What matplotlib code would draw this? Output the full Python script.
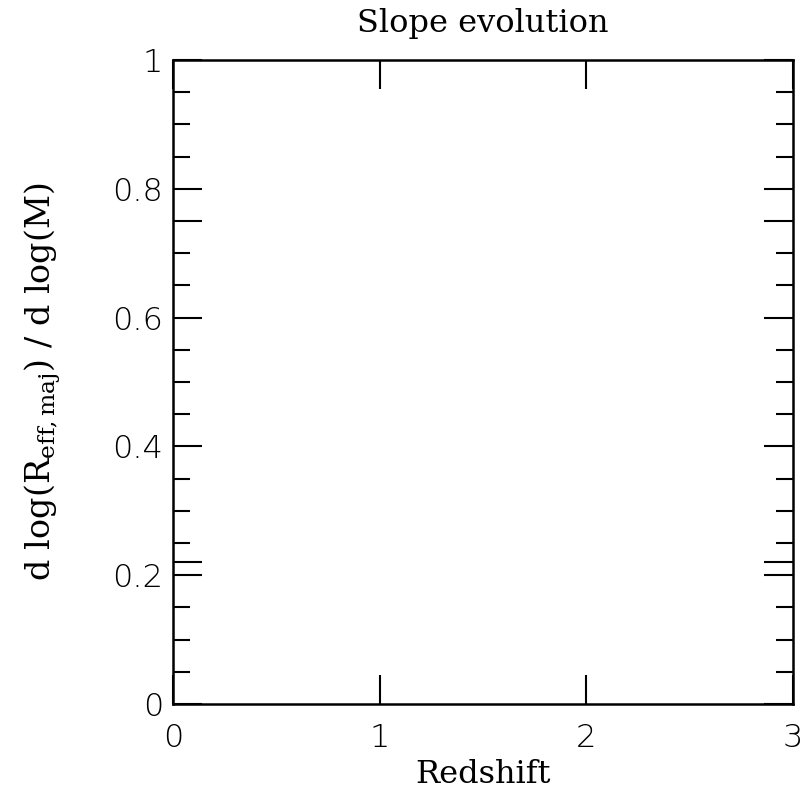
import matplotlib
matplotlib.use("Agg")
import matplotlib.pyplot as plt

plt.rcParams['font.family'] = ['DejaVu Serif']
plt.rcParams['mathtext.fontset'] = 'dejavuserif'

x_ticks = [0, 1, 2, 3]
x_ticklabels = ['0', '1', '2', '3']
y_ticks = [0, 0.2, 0.4, 0.6, 0.8, 1]
y_ticklabels = ['0', '0.2', '0.4', '0.6', '0.8', '1']
extra_marks = [0.22, 0.75]

fig = plt.figure(figsize=(8.04, 7.97), dpi=100)
ax = fig.add_axes([0.2152, 0.1167, 0.9863 - 0.2152, 0.9247 - 0.1167])
ax.set_xlim(0, 3)
ax.set_ylim(0, 1)

major_y = sorted(y_ticks + extra_marks)
ax.set_yticks(major_y)
ax.set_yticklabels([y_ticklabels[y_ticks.index(v)] if v in y_ticks else '' for v in major_y])
ax.set_yticks([i * 0.05 for i in range(21)], minor=True)
ax.set_xticks(x_ticks)
ax.set_xticklabels(x_ticklabels)

ax.tick_params(which='both', direction='in', top=True, right=True, width=1.5, labelsize=23)
ax.tick_params(axis='y', pad=7)
ax.tick_params(axis='x', pad=14)
ax.tick_params(which='major', length=21)
ax.tick_params(which='minor', length=12)
for lab in ax.get_xticklabels() + ax.get_yticklabels():
    lab.set_fontfamily(['DejaVu Sans'])
    lab.set_fontweight('light')
for s in ax.spines.values():
    s.set_linewidth(1.8)

ax.set_xlabel('Redshift', fontsize=23, labelpad=4)
ax.set_ylabel(r'd log(R$_{\rm eff,maj}$) / d log(M)', fontsize=24)
ax.yaxis.set_label_coords(-0.178, 0.5)
ax.set_title('Slope evolution', fontsize=23, pad=20)

fig.savefig('out.png', dpi=100)
